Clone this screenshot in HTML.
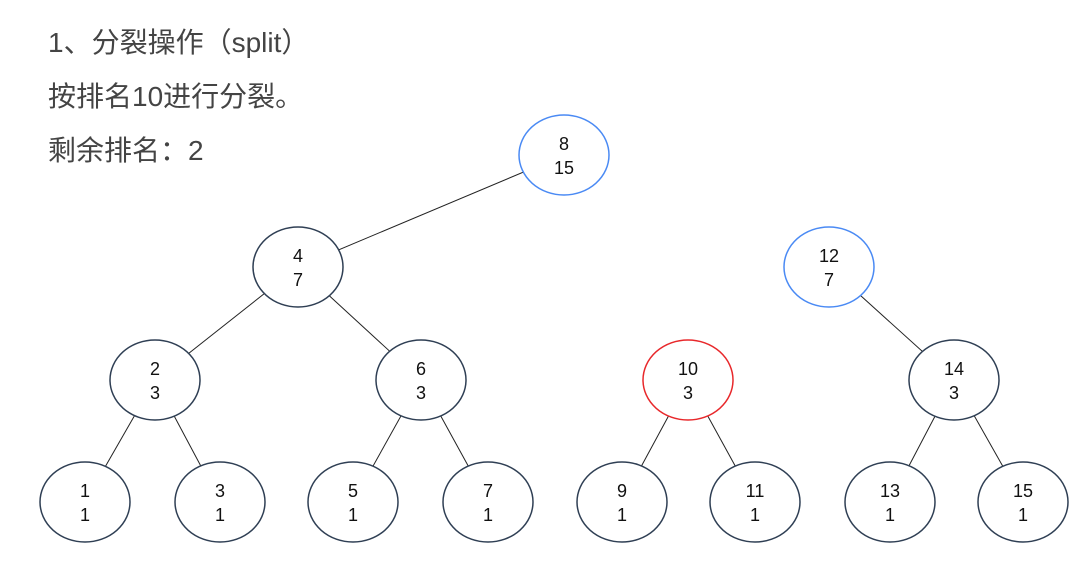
<!DOCTYPE html>
<html><head><meta charset="utf-8"><style>
body{margin:0;background:#fff;width:1090px;height:580px;overflow:hidden}
.t{position:absolute;left:48px;font:28px/32px "Liberation Sans","Noto Sans CJK SC",sans-serif;color:#444}
svg{position:absolute;left:0;top:0}
</style></head><body>
<div class="t" style="top:27px">1、分裂操作（split）</div>
<div class="t" style="top:81px">按排名10进行分裂。</div>
<div class="t" style="top:135px">剩余排名：2</div>
<svg width="1090" height="580" font-family="Liberation Sans, sans-serif" font-size="18" text-anchor="middle">
<g stroke="#222" stroke-width="1">
<line x1="564" y1="155" x2="298" y2="267"/>
<line x1="298" y1="267" x2="155" y2="380"/><line x1="298" y1="267" x2="421" y2="380"/>
<line x1="829" y1="267" x2="954" y2="380"/>
<line x1="155" y1="380" x2="85" y2="502"/><line x1="155" y1="380" x2="220" y2="502"/>
<line x1="421" y1="380" x2="353" y2="502"/><line x1="421" y1="380" x2="488" y2="502"/>
<line x1="688" y1="380" x2="622" y2="502"/><line x1="688" y1="380" x2="755" y2="502"/>
<line x1="954" y1="380" x2="890" y2="502"/><line x1="954" y1="380" x2="1023" y2="502"/>
</g>
<g fill="#fff" stroke-width="1.5">
<ellipse cx="564" cy="155" rx="45" ry="40" stroke="#4a8af4"/>
<ellipse cx="298" cy="267" rx="45" ry="40" stroke="#2f3f54"/>
<ellipse cx="829" cy="267" rx="45" ry="40" stroke="#4a8af4"/>
<ellipse cx="155" cy="380" rx="45" ry="40" stroke="#2f3f54"/>
<ellipse cx="421" cy="380" rx="45" ry="40" stroke="#2f3f54"/>
<ellipse cx="688" cy="380" rx="45" ry="40" stroke="#e8282b"/>
<ellipse cx="954" cy="380" rx="45" ry="40" stroke="#2f3f54"/>
<ellipse cx="85" cy="502" rx="45" ry="40" stroke="#2f3f54"/>
<ellipse cx="220" cy="502" rx="45" ry="40" stroke="#2f3f54"/>
<ellipse cx="353" cy="502" rx="45" ry="40" stroke="#2f3f54"/>
<ellipse cx="488" cy="502" rx="45" ry="40" stroke="#2f3f54"/>
<ellipse cx="622" cy="502" rx="45" ry="40" stroke="#2f3f54"/>
<ellipse cx="755" cy="502" rx="45" ry="40" stroke="#2f3f54"/>
<ellipse cx="890" cy="502" rx="45" ry="40" stroke="#2f3f54"/>
<ellipse cx="1023" cy="502" rx="45" ry="40" stroke="#2f3f54"/>
</g>
<g fill="#111">
<text x="564" y="150">8</text><text x="564" y="174">15</text>
<text x="298" y="262">4</text><text x="298" y="286">7</text>
<text x="829" y="262">12</text><text x="829" y="286">7</text>
<text x="155" y="375">2</text><text x="155" y="399">3</text>
<text x="421" y="375">6</text><text x="421" y="399">3</text>
<text x="688" y="375">10</text><text x="688" y="399">3</text>
<text x="954" y="375">14</text><text x="954" y="399">3</text>
<text x="85" y="497">1</text><text x="85" y="521">1</text>
<text x="220" y="497">3</text><text x="220" y="521">1</text>
<text x="353" y="497">5</text><text x="353" y="521">1</text>
<text x="488" y="497">7</text><text x="488" y="521">1</text>
<text x="622" y="497">9</text><text x="622" y="521">1</text>
<text x="755" y="497">11</text><text x="755" y="521">1</text>
<text x="890" y="497">13</text><text x="890" y="521">1</text>
<text x="1023" y="497">15</text><text x="1023" y="521">1</text>
</g>
</svg>
</body></html>
